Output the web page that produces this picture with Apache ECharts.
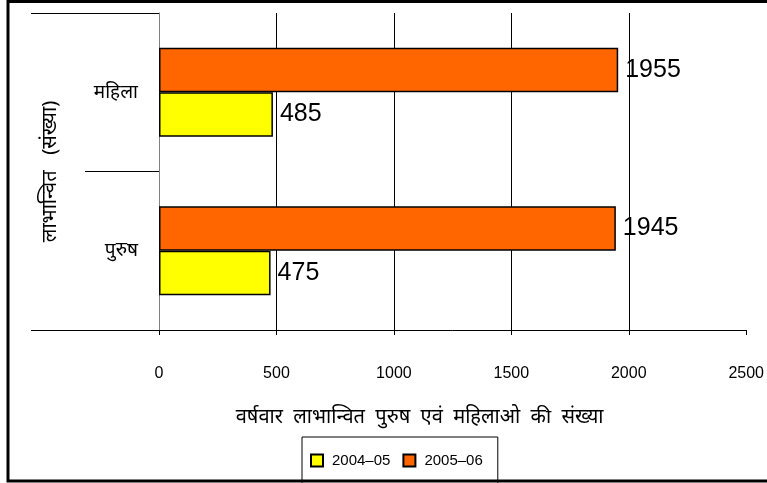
<!DOCTYPE html>
<html>
<head>
<meta charset="utf-8">
<script src="https://cdn.jsdelivr.net/npm/echarts@6/dist/echarts.min.js"></script>
<style>
  html, body { margin: 0; padding: 0; background: #fff; }
  #main { width: 767px; height: 483px; }
</style>
</head>
<body>
<div id="main"></div>
<script>
// categories bottom -> top
var categories = ['पुरुष', 'महिला'];
var seriesNames = ['2004–05', '2005–06'];
var values0405 = [475, 485];
var values0506 = [1945, 1955];
var xTicks = [0, 500, 1000, 1500, 2000, 2500];

var font = 'Liberation Sans, Arial, sans-serif';
var hindiFont = '"Noto Sans", "Noto Sans Devanagari", "DejaVu Sans", sans-serif';

var myChart = echarts.init(document.getElementById('main'));

var barLabel = { show: true, position: 'right', distance: 7, fontFamily: font, fontSize: 25, color: '#000' };

var option = {
    animation: false,
    grid: { left: 159, right: 18, top: 13, bottom: 153, containLabel: false },
    legend: {
        data: seriesNames,
        left: 302,
        top: 437,
        padding: [16, 15, 16, 8],
        itemGap: 12,
        itemWidth: 12,
        itemHeight: 12,
        icon: 'rect',
        borderColor: '#000',
        borderWidth: 1,
        textStyle: { fontFamily: font, fontSize: 15, color: '#000', padding: [0, 0, 0, 4] }
    },
    xAxis: {
        type: 'value',
        min: xTicks[0],
        max: xTicks[xTicks.length - 1],
        interval: 500,
        name: 'वर्षवार  लाभान्वित  पुरुष  एवं  महिलाओ  की  संख्या',
        nameLocation: 'middle',
        nameGap: 77,
        nameTextStyle: { fontFamily: hindiFont, fontSize: 20, color: '#000', padding: [0, 66, 0, 0] },
        axisLine: { show: true, lineStyle: { color: '#000', width: 1 } },
        axisTick: { show: true, length: 5, lineStyle: { color: '#000' } },
        axisLabel: { fontFamily: font, fontSize: 16, color: '#000', margin: 36, formatter: function (v) { return String(v); } },
        splitLine: { show: true, showMinLine: false, showMaxLine: false, lineStyle: { color: '#000', width: 1 } }
    },
    yAxis: {
        type: 'category',
        data: categories,
        name: 'लाभान्वित   (संख्या)',
        nameLocation: 'middle',
        nameGap: 99,
        nameRotate: 90,
        nameTextStyle: { fontFamily: hindiFont, fontSize: 20, color: '#000' },
        axisLine: { show: true, lineStyle: { color: '#808080', width: 1 } },
        axisTick: { show: true, length: 74, lineStyle: { color: '#000' } },
        axisLabel: { fontFamily: hindiFont, fontSize: 19, color: '#000', margin: 21 }
    },
    series: [
        {
            // listed first so it sits above the yellow bar in each band
            name: seriesNames[1],
            type: 'bar',
            data: values0506,
            barGap: '0%',
            barCategoryGap: '44%',
            itemStyle: { color: '#FF6600', borderColor: '#000', borderWidth: 1.5 },
            label: barLabel
        },
        {
            name: seriesNames[0],
            type: 'bar',
            data: values0405,
            barGap: '0%',
            barCategoryGap: '44%',
            itemStyle: { color: '#FFFF00', borderColor: '#000', borderWidth: 1.5 },
            label: barLabel
        }
    ],
    graphic: [
        // outer frame
        { type: 'rect', silent: true, z: -1, shape: { x: 8, y: 1.5, width: 800, height: 479.5 },
          style: { fill: 'none', stroke: '#000', lineWidth: 3 } },
        // long category separators at top and bottom
        { type: 'line', silent: true, shape: { x1: 31, y1: 13.5, x2: 159, y2: 13.5 }, style: { stroke: '#000', lineWidth: 1 } },
        { type: 'line', silent: true, shape: { x1: 31, y1: 330.5, x2: 159, y2: 330.5 }, style: { stroke: '#000', lineWidth: 1 } }
    ]
};

myChart.setOption(option);
</script>
</body>
</html>
